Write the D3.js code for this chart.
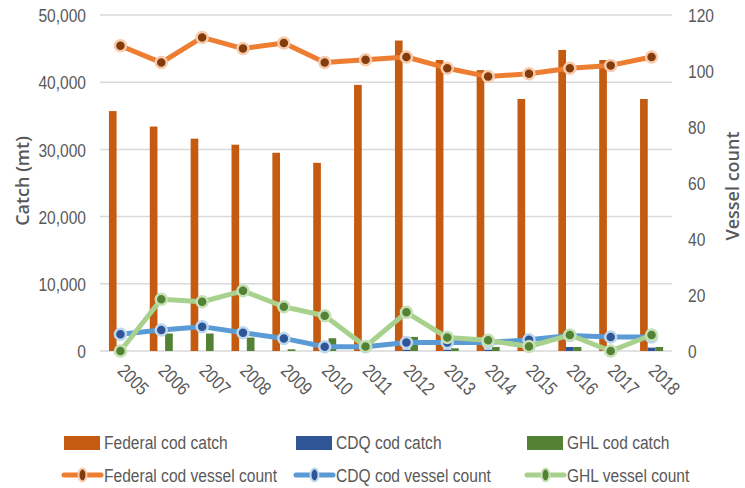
<!DOCTYPE html>
<html>
<head>
<meta charset="utf-8">
<script src="https://cdn.jsdelivr.net/npm/d3@7"></script>
<style>
  body { margin: 0; background: #fff; }
  svg text { font-family: "Liberation Sans", Arial, sans-serif; fill: #595959; }
</style>
</head>
<body>
<div id="chart"></div>
<script>
// data
var years = ["2005","2006","2007","2008","2009","2010","2011","2012","2013","2014","2015","2016","2017","2018"];
var federalCatch = [35700, 33400, 31600, 30700, 29500, 28000, 39600, 46200, 43300, 41800, 37500, 44800, 43300, 37500];
var cdqCatch = [0, 0, 0, 0, 0, 0, 0, 200, 200, 200, 200, 600, 300, 500];
var ghlCatch = [0, 2600, 2600, 2000, 250, 1900, 0, 2100, 400, 600, 0, 600, 0, 600];
var federalVessels = [109, 103, 112, 108, 110, 103, 104, 105, 101, 98, 99, 101, 102, 105];
var cdqVessels = [6, 7.5, 8.7, 6.5, 4.5, 1.5, 1.5, 3, 3, 3, 4, 5.5, 5, 5];
var ghlVessels = [0, 18.5, 17.6, 21.5, 15.8, 12.6, 1.6, 13.8, 4.8, 3.8, 1.6, 5.7, 0, 5.7];
var leftTicks = [0, 10000, 20000, 30000, 40000, 50000];
var rightTicks = [0, 20, 40, 60, 80, 100, 120];

var bars = [
  {name: "Federal cod catch", values: federalCatch, color: "#C55A11"},
  {name: "CDQ cod catch", values: cdqCatch, color: "#2F5597"},
  {name: "GHL cod catch", values: ghlCatch, color: "#548235"}
];
var lines = [
  {name: "Federal cod vessel count", values: federalVessels, color: "#ED7D31", dot: "#843C0C", halo: "#F8CBAD"},
  {name: "CDQ cod vessel count", values: cdqVessels, color: "#5B9BD5", dot: "#2F5597", halo: "#BDD7EE"},
  {name: "GHL vessel count", values: ghlVessels, color: "#A9D18E", dot: "#548235", halo: "#C5E0B4"}
];

var width = 745, height = 488;
var narrow = "scale(0.82,1)"; // squeeze text to look like the condensed original font
var svg = d3.select("#chart").append("svg").attr("width", width).attr("height", height);

var x = d3.scaleBand().domain(years).range([100, 672]);
var x1 = d3.scaleBand().domain(bars.map(d => d.name)).range([-11.5, 11.5]);
var yL = d3.scaleLinear().domain([0, 50000]).range([351, 15]);
var yR = d3.scaleLinear().domain([0, 120]).range([351, 15]);

// gridlines
svg.append("g").selectAll("line").data(leftTicks).enter().append("line")
  .attr("x1", 100).attr("x2", 672)
  .attr("y1", d => yL(d)).attr("y2", d => yL(d))
  .attr("stroke", "#d9d9d9").attr("stroke-width", 1.5);

// left axis
var axL = svg.append("g").attr("transform", "translate(86,0)")
  .call(d3.axisLeft(yL).tickValues(leftTicks).tickSize(0).tickPadding(0).tickFormat(d3.format(",")));
axL.select(".domain").remove();
axL.selectAll("text").style("font-size", "19px").attr("dy", "0.35em").attr("transform", narrow);

// right axis
var axR = svg.append("g").attr("transform", "translate(688,0)")
  .call(d3.axisRight(yR).tickValues(rightTicks).tickSize(0).tickPadding(0));
axR.select(".domain").remove();
axR.selectAll("text").style("font-size", "19px").attr("dy", "0.35em").attr("transform", narrow);

// x labels
svg.append("g").selectAll("text").data(years).enter().append("text")
  .attr("transform", d => "translate(" + (x(d) + x.bandwidth() / 2 - 4) + ",372) rotate(45) " + narrow)
  .style("font-size", "19px")
  .text(d => d);

// axis titles
svg.append("text").attr("transform", "translate(29,181) rotate(-90)")
  .attr("text-anchor", "middle")
  .style("font-family", "'Open Sans', sans-serif").style("font-weight", "600").style("font-size", "18px")
  .text("Catch (mt)");
svg.append("text").attr("transform", "translate(739,186) rotate(-90)")
  .attr("text-anchor", "middle")
  .style("font-family", "'Open Sans', sans-serif").style("font-weight", "600").style("font-size", "18px")
  .text("Vessel count");

// bars
bars.forEach(function(s) {
  svg.append("g").selectAll("rect").data(s.values).enter().append("rect")
    .attr("x", (d, i) => x(years[i]) + x.bandwidth() / 2 + x1(s.name))
    .attr("width", x1.bandwidth())
    .attr("y", d => yL(d))
    .attr("height", d => yL(0) - yL(d))
    .attr("fill", s.color);
});

// lines
var line = d3.line().x((d, i) => x(years[i]) + x.bandwidth() / 2).y(d => yR(d));
lines.forEach(function(s) {
  var g = svg.append("g");
  g.append("path").datum(s.values).attr("d", line)
    .attr("fill", "none").attr("stroke", s.color).attr("stroke-width", 5)
    .attr("stroke-linejoin", "round");
  g.selectAll("circle").data(s.values).enter().append("circle")
    .attr("cx", (d, i) => x(years[i]) + x.bandwidth() / 2)
    .attr("cy", d => yR(d))
    .attr("r", 5.5)
    .attr("fill", s.dot).attr("stroke", s.halo).attr("stroke-width", 2.5);
});

// legend
var legX = [64, 296, 527];
var leg = svg.append("g");
bars.forEach(function(s, i) {
  leg.append("rect").attr("x", legX[i]).attr("y", 436).attr("width", 36).attr("height", 14).attr("fill", s.color);
  leg.append("text").attr("transform", "translate(" + (legX[i] + 40) + ",442) " + narrow)
    .attr("dy", "0.35em").style("font-size", "19px").text(s.name);
});
lines.forEach(function(s, i) {
  leg.append("line").attr("x1", legX[i]).attr("x2", legX[i] + 37).attr("y1", 475).attr("y2", 475)
    .attr("stroke", s.color).attr("stroke-width", 5).attr("stroke-linecap", "round");
  leg.append("ellipse").attr("cx", legX[i] + 18.5).attr("cy", 475).attr("rx", 4).attr("ry", 6.5)
    .attr("fill", s.dot).attr("stroke", s.halo).attr("stroke-width", 2);
  leg.append("text").attr("transform", "translate(" + (legX[i] + 40) + ",475) " + narrow)
    .attr("dy", "0.35em").style("font-size", "19px").text(s.name);
});
</script>
</body>
</html>
